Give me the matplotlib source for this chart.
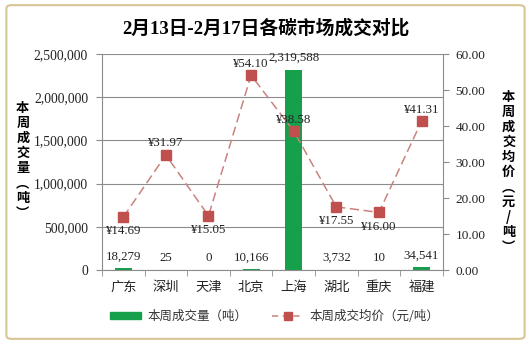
import matplotlib
matplotlib.use("Agg")
import matplotlib.pyplot as plt
from matplotlib.patches import FancyBboxPatch, Patch
from matplotlib.lines import Line2D
from matplotlib.ticker import FuncFormatter, MultipleLocator

plt.rcParams['font.family'] = ['Liberation Serif', 'Noto Sans CJK SC', 'DejaVu Sans']

markets = ["广东", "深圳", "天津", "北京", "上海", "湖北", "重庆", "福建"]
volume = [18279, 25, 0, 10166, 2319588, 3732, 10, 34541]
price = [14.69, 31.97, 15.05, 54.10, 38.58, 17.55, 16.00, 41.31]
price_label_above = [False, True, False, True, True, False, False, True]

title = "2月13日-2月17日各碳市场成交对比"
left_label = "本周成交量（吨）"
right_label = "本周成交均价（元/吨）"

bar_color = "#17a04b"
line_color = "#c9837f"
marker_color = "#c0504d"
axis_gray = "#8c8c8c"
text_color = "#222222"
cjk = ['Noto Sans CJK SC', 'DejaVu Sans']
serif = ['Liberation Serif', 'Noto Sans CJK SC']

fig = plt.figure(figsize=(5.31, 3.44), dpi=100)
fig.patch.set_facecolor("white")

frame = FancyBboxPatch((0.012, 0.015), 0.976, 0.97,
                       boxstyle="round,pad=0,rounding_size=0.01",
                       transform=fig.transFigure, facecolor="none",
                       edgecolor="#d8c595", linewidth=1.5, zorder=-1)
fig.patches.append(frame)

ax = fig.add_axes([0.192, 0.215, 0.642, 0.628])
ax2 = ax.twinx()

x = list(range(len(markets)))
ax.bar(x, volume, width=0.4, color=bar_color, zorder=2)
ax.set_xlim(-0.5, len(markets) - 0.5)
ax.set_ylim(0, 2500000)
ax.yaxis.set_major_locator(MultipleLocator(500000))
ax.yaxis.set_major_formatter(FuncFormatter(lambda v, p: f"{int(v):,}"))
ax.grid(axis="y", color=axis_gray, linewidth=0.8, zorder=0)
ax.set_axisbelow(True)

ax.set_xticks(x)
ax.set_xticklabels(markets, family=cjk, fontsize=9.5, color=text_color)
ax.set_xticks([i - 0.5 for i in range(len(markets) + 1)], minor=True)
ax.tick_params(axis="x", which="major", length=0, pad=8)
ax.tick_params(axis="x", which="minor", length=4, color=axis_gray)
ax.tick_params(axis="y", labelsize=9.8, length=4, color=axis_gray, pad=6,
               labelcolor=text_color)

for spine in ["top", "right"]:
    ax.spines[spine].set_visible(False)
    ax2.spines[spine].set_visible(False)
ax.spines["left"].set_color(axis_gray)
ax.spines["bottom"].set_color(axis_gray)
ax2.spines["left"].set_visible(False)
ax2.spines["bottom"].set_visible(False)
ax2.spines["right"].set_visible(True)
ax2.spines["right"].set_color(axis_gray)

for xi, v in zip(x, volume):
    ax.annotate(f"{v:,}", (xi, v), xytext=(0, 4), textcoords="offset points",
                ha="center", va="bottom", fontsize=9.3, color=text_color, zorder=5)

ax2.plot(x, price, color=line_color, linestyle=(0, (6, 3)), linewidth=1.1,
         marker="s", markersize=6.5, markerfacecolor=marker_color,
         markeredgecolor=marker_color, zorder=3)
ax2.set_ylim(0, 60)
ax2.yaxis.set_major_locator(MultipleLocator(10))
ax2.yaxis.set_major_formatter(FuncFormatter(lambda v, p: f"{v:.2f}"))
ax2.tick_params(axis="y", labelsize=9.5, length=4, color=axis_gray, pad=5,
                labelcolor=text_color)

for xi, p, above in zip(x, price, price_label_above):
    off = 4 if above else -6
    ax2.annotate(f"¥{p:.2f}", (xi, p), xytext=(0, off), textcoords="offset points",
                 ha="center", va="bottom" if above else "top",
                 fontsize=9.3, color=text_color, zorder=6)

fig.text(0.5, 0.918, title, ha="center", va="center", fontsize=13.5,
         fontweight="bold", family=serif)

def vertical(s):
    s = s.replace("（", "︵").replace("）", "︶")
    return "\n".join(s)

fig.text(0.043, 0.533, vertical(left_label), ha="center", va="center",
         fontsize=9.5, fontweight="bold", family=cjk, linespacing=1.1)
fig.text(0.958, 0.50, vertical(right_label), ha="center", va="center",
         fontsize=9.5, fontweight="bold", family=cjk, linespacing=1.1)

handles = [Patch(facecolor=bar_color, edgecolor=bar_color),
           Line2D([0], [0], color=line_color, linestyle=(0, (4, 3)), linewidth=1.1,
                  marker="s", markersize=6, markerfacecolor=marker_color,
                  markeredgecolor=marker_color)]
fig.legend(handles, [left_label, right_label], loc="center",
           bbox_to_anchor=(0.517, 0.081), ncol=2, frameon=False,
           prop={"family": cjk, "size": 9}, handlelength=2.5,
           handleheight=0.5, columnspacing=2.0, handletextpad=0.5,
           labelcolor="#333333")

fig.savefig("out.png", dpi=100)
